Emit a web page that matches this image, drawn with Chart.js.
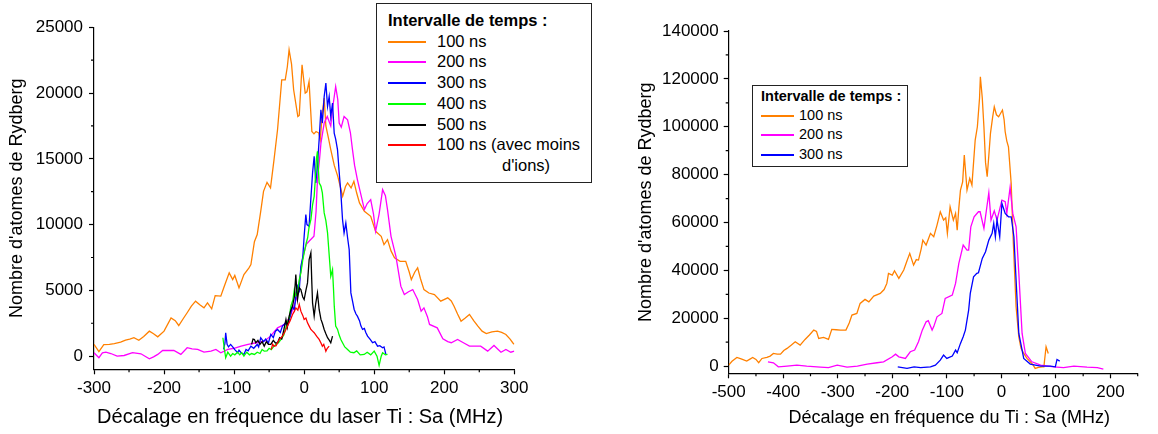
<!DOCTYPE html>
<html lang="fr">
<head>
<meta charset="UTF-8">
<title>Nombre d'atomes de Rydberg - décalage en fréquence</title>
<script src="https://cdn.jsdelivr.net/npm/chart.js@4.4.1/dist/chart.umd.min.js"></script>
<style>
    * { margin: 0; padding: 0; box-sizing: border-box; }
    body {
        width: 1158px; height: 434px; background: #fff;
        position: relative; overflow: hidden;
        font-family: "Liberation Sans", Arial, sans-serif; color: #000;
    }
    canvas { position: absolute; top: 0; }
    #leftChart { left: 0; }
    #rightChart { left: 620px; }

    .legend { position: absolute; background: #fff; border: 1.5px solid #222; }
    .legend .title { font-weight: bold; white-space: nowrap; }
    .legend .row { display: flex; }
    .legend .swatch { flex: none; height: 0; border-top-style: solid; }
    .legend .label { flex: 1; padding-left: 65px; text-indent: -65px; }

    #legendL { left: 376px; top: 3px; width: 216px; height: 180px; padding: 6px 0 0 11px; font-size: 16.5px; line-height: 20.7px; }
    #legendL .swatch { width: 38px; border-top-width: 2px; margin: 10px 11px 0 0; }

    #legendR { left: 752px; top: 85px; width: 156px; height: 82px; padding: 1px 0 0 8px; font-size: 14.5px; line-height: 19.2px; }
    #legendR .swatch { width: 33px; border-top-width: 2px; margin: 9px 5px 0 0; }
</style>
</head>
<body>
<canvas id="leftChart" width="560" height="434"></canvas>
<canvas id="rightChart" width="538" height="434"></canvas>
<div class="legend" id="legendL"></div>
<div class="legend" id="legendR"></div>

<script>
// ---- data: [MHz, nombre d'atomes] ----
// graphe de gauche
const left100 = [[-300,900],[-293,350],[-286,880],[-278,900],[-271,960],[-262,1060],[-255,1210],[-249,1300],[-243,1400],[-236,1210],[-229,1500],[-221,1900],[-215,1700],[-209,1470],[-200,1900],[-190,2910],[-184,2700],[-179,2330],[-172,2900],[-167,3300],[-161,3800],[-155,4180],[-149,3900],[-143,3670],[-138,4050],[-132,3600],[-127,4600],[-119,4560],[-114,5320],[-107,6330],[-102,5820],[-99,6130],[-93,5190],[-86,6200],[-79,6700],[-76,6960],[-71,8700],[-67,9240],[-62,11000],[-58,12530],[-53,13210],[-48,12790],[-43,14940],[-38,17210],[-32,21010],[-27,21010],[-24,22000],[-21.5,23290],[-18,22200],[-15,20250],[-9,18220],[-7,18300],[-3,22150],[1.5,20000],[4,20100],[7,20880],[11,17080],[14,16900],[17,17080],[21,16960],[23,16450],[26,18500],[28.6,19620],[31,17500],[35,16500],[38,15700],[43,14500],[48,13670],[52,12800],[55,12150],[59,12900],[62,13170],[67,12790],[71,13290],[75,12400],[79,11650],[86,11010],[95,10630],[102,9490],[110,9110],[114,8480],[119,8860],[124,8000],[129,7470],[137,7210],[145,7210],[150,6400],[153,5820],[158,6400],[162,6710],[166,5900],[171,5060],[178,4800],[186,4680],[195,4180],[205,4430],[210,4200],[214,3800],[219,3200],[224,2660],[230,2900],[236,3170],[242,2700],[248,2280],[254,1900],[260,1720],[268,1850],[276,1900],[282,1800],[288,1650],[294,1300],[298,1000],[300,900]];
const left200 = [[-300,260],[-293,-120],[-288,250],[-283,300],[-276,200],[-267,0],[-257,50],[-245,260],[-233,180],[-221,-200],[-215,-50],[-209,130],[-202,430],[-186,430],[-176,130],[-167,640],[-160,550],[-152,510],[-143,300],[-133,380],[-126,510],[-119,260],[-109,510],[-100,600],[-90,760],[-80,900],[-70,1000],[-57,1140],[-48,1520],[-38,2150],[-28.6,2400],[-20,3000],[-10,4500],[-2,7470],[3,8500],[7,8730],[14,9110],[17,11000],[19,13420],[22,15000],[24,16200],[28.6,17720],[33,18220],[38,17500],[41,19000],[45,20500],[48,19500],[50,17720],[53,17400],[57,18220],[62,17970],[66,17000],[69,15700],[72,14500],[76,13420],[80,12500],[86,11140],[90,11600],[95,11900],[99,10800],[102,9490],[107,10800],[112,12660],[116,12200],[119,11140],[124,9110],[131,7590],[138,5320],[143,4680],[149,4900],[155,5060],[162,4300],[167,3420],[171,3670],[176,3000],[179,2410],[190,2150],[198,1320],[205,1100],[210,1020],[219,1270],[228,1000],[236,760],[252,760],[262,380],[271,810],[281,300],[288,510],[295,300],[300,380]];
const left300 = [[-115,510],[-113,1000],[-112,1780],[-110,900],[-108,700],[-105,890],[-102,700],[-99,500],[-95,260],[-93,450],[-90,260],[-86,130],[-83,500],[-80,400],[-76,760],[-72,600],[-67,890],[-65,700],[-62,1400],[-58,1100],[-55,1300],[-51,1000],[-47.6,1650],[-44,1400],[-41,1900],[-38,2030],[-34,1800],[-31,2280],[-27,2500],[-24,2300],[-20,3000],[-17,3800],[-14,3500],[-12,4500],[-9.5,5320],[-7,5000],[-4.7,6830],[-2,7500],[0,9110],[2.4,10760],[4,10000],[7,9870],[9,11500],[12,13920],[14.3,15190],[16.7,13170],[19,14500],[21.4,16450],[23.9,18730],[26,17720],[28.6,19740],[31,20760],[33.4,18980],[35.7,19740],[38,18220],[40.5,19240],[42.9,16960],[45,16500],[47.6,15700],[50,14000],[52.4,12410],[54.8,10380],[57,9370],[59.5,10130],[62,9000],[64.3,8100],[66.7,4810],[69,4200],[71.4,3550],[74,3200],[76,3040],[79,2700],[81,2300],[83.4,2030],[86,2100],[88,1800],[90.5,1520],[94,1300],[97.7,1020],[101,1100],[104.8,760],[108,800],[112,640],[114,700],[116.7,130]];
const left400 = [[-116,1400],[-114,600],[-112,-120],[-109,300],[-105,0],[-102,200],[-99,100],[-95,300],[-92,100],[-89,250],[-86,0],[-82,300],[-78,100],[-75,200],[-71,130],[-67,300],[-63,200],[-60,500],[-57,380],[-53,400],[-50,600],[-47,500],[-43,760],[-40,900],[-37,1000],[-33,1270],[-29,1600],[-26,2200],[-24,2530],[-21,3000],[-19,3800],[-16,4300],[-14,5060],[-12,4600],[-9.5,4810],[-7,5800],[-4.7,6330],[-2,7300],[0,7850],[3,8600],[5,9000],[7,9800],[9.6,10380],[12,11500],[14.3,12150],[16,13500],[17.5,15000],[19,15570],[20,14500],[21.4,13170],[24,12910],[26,12410],[28.6,10890],[31,10300],[33.4,9370],[36,7500],[38,6070],[40.5,6580],[42,5000],[43,3800],[45,2280],[47.7,2030],[50,1600],[52.4,1270],[55,1000],[58,700],[62,510],[66,300],[71,260],[75,400],[80,100],[85.7,130],[90,300],[95,100],[100,380],[104,0],[107,-700],[110,0],[112,260],[116,100],[119,130]];
const left500 = [[-75,900],[-73,1300],[-71,1270],[-69,1020],[-66,1200],[-63,900],[-60,1100],[-57,760],[-54,1100],[-51,900],[-47.6,890],[-44,1200],[-41,1000],[-38,1020],[-35,1400],[-32,1300],[-29,2000],[-26,2790],[-24,2200],[-21.4,3040],[-19,3500],[-16.6,3800],[-14,4500],[-11.9,6200],[-10.5,5000],[-9.5,4300],[-7,5200],[-4.7,5060],[-2,4500],[0,4300],[2.5,5000],[4.8,5570],[7.1,7340],[9.6,7850],[11,5500],[12,4050],[14.3,3040],[16.5,4000],[19,4810],[21.4,3550],[24,2790],[26,2500],[28.6,2030],[31,1700],[33.4,1400],[36,1200],[38,1020],[40.5,1520]];
const left100b = [[-47,500],[-45,900],[-43,760],[-40,800],[-38,1020],[-35,1300],[-31,1520],[-28,1800],[-24,2280],[-20,2700],[-16.6,3170],[-14,3400],[-11.9,3670],[-9,3500],[-7,3930],[-4.7,3420],[-2,3100],[0,2790],[2.5,2900],[4.8,2530],[7,2300],[9.6,2030],[12,1900],[14.3,1780],[18,1500],[21.4,1270],[24,1000],[26,760],[28,900],[31,380],[33,600],[35.7,760]];

// graphe de droite
const right100 = [[-500,420],[-494,2000],[-485,3600],[-476,2900],[-467,2100],[-461,2900],[-456,3600],[-450,2800],[-445,1400],[-439,3200],[-430,3700],[-424,4200],[-418,5300],[-411,5000],[-405,5000],[-399,6500],[-393,7400],[-385,8800],[-378,10150],[-369,8780],[-360,11150],[-352,13000],[-344,15040],[-339,14500],[-335,11570],[-326,12000],[-317,11150],[-311,15340],[-303,15200],[-295,15040],[-285,15040],[-279,18000],[-274,21300],[-265,22000],[-259,26200],[-250,27870],[-243,26870],[-234,29250],[-222,30380],[-215,32000],[-210,34560],[-207,38740],[-200,38030],[-196,39830],[-188,36650],[-179,40120],[-173,44000],[-168,47100],[-161,42200],[-156,44500],[-152,44300],[-147,49000],[-144,52650],[-138,50560],[-134,53000],[-130,55450],[-124,54030],[-118,58920],[-112,64480],[-106,61010],[-102,62000],[-99,55450],[-94,66570],[-88,61010],[-84,63810],[-81,56830],[-78,66000],[-75,73550],[-71,77000],[-68,88170],[-63,73550],[-58,78440],[-54,75640],[-51,85000],[-48,94440],[-44,100000],[-40,112000],[-38.5,120900],[-35,112000],[-32,100000],[-29,85000],[-26,79110],[-23,88000],[-20,97240],[-16,104000],[-13,108360],[-9,105000],[-5,104180],[2,106980],[5,103000],[7,97900],[10,94000],[13,91640],[18,76350],[22,51280],[27,24780],[32,12240],[36,7500],[41,5300],[47,3200],[53,1800],[58,500],[62,-960],[68,-500],[75,-300],[78,-300],[79,2000],[82,8070],[86,5300]];
const right200 = [[-428,1800],[-418,1400],[-409,-300],[-393,0],[-375,400],[-357,0],[-332,-400],[-317,-600],[-301,400],[-283,-400],[-264,0],[-246,800],[-228,1400],[-216,1800],[-200,3900],[-194,5000],[-188,3900],[-176,3200],[-167,6000],[-159,6700],[-152,10150],[-145,15040],[-138,18510],[-134,19000],[-127,15040],[-124,16500],[-118,20600],[-109,22000],[-103,28290],[-90,29670],[-84,34560],[-78,42920],[-70,50560],[-63,48480],[-60,48480],[-56,58200],[-50,62390],[-42,64480],[-39,64480],[-32,57540],[-23,72420],[-19,61010],[-13,64900],[-8,61010],[1,69370],[7,68700],[10,63810],[16,74680],[21,63810],[27,58200],[32,38740],[38,13660],[44,5300],[56,1800],[72,420],[96,-300],[114,-600],[133,0],[157,-400],[176,-600],[187,-1250]];
const right300 = [[-190,-300],[-173,-960],[-160,-300],[-148,-600],[-130,-300],[-121,420],[-112,2500],[-106,4600],[-100,3200],[-90,4200],[-84,6700],[-81,5600],[-75,9490],[-70,12240],[-66,15040],[-63,19220],[-60,23400],[-57,30380],[-51,37320],[-45,38740],[-42,39000],[-35,45010],[-29,47770],[-23,52650],[-17,55450],[-14,59630],[-11,54000],[-8,61010],[-3,54030],[1,68000],[7,63810],[13,62390],[18,62390],[23,54030],[27,35940],[32,13660],[41,3200],[53,840],[72,0],[90,0],[99,-300],[102,2800],[107,2100]];

// graduations
const leftXTicks = [-300, -200, -100, 0, 100, 200, 300];
const leftXMinor = [-250, -150, -50, 50, 150, 250];
const leftYTicks = [0, 5000, 10000, 15000, 20000, 25000];
const leftYMinor = [2500, 7500, 12500, 17500, 22500];
const rightXTicks = [-500, -400, -300, -200, -100, 0, 100, 200];
const rightXMinor = [-450, -350, -250, -150, -50, 50, 150, 250];
const rightYTicks = [0, 20000, 40000, 60000, 80000, 100000, 120000, 140000];
const rightYMinor = [10000, 30000, 50000, 70000, 90000, 110000, 130000];

const leftNames = ['100 ns', '200 ns', '300 ns', '400 ns', '500 ns', "100 ns (avec moins d'ions)"];
const rightNames = ['100 ns', '200 ns', '300 ns'];
const legendTitle = 'Intervalle de temps :';

// ---- style ----
const FONT = "'Liberation Sans', Arial, sans-serif";
Chart.defaults.font.family = FONT;
Chart.defaults.color = '#000';

const colors = ['#FF8000', '#FF00FF', '#0000FF', '#00FF00', '#000000', '#FF0000'];
const drawOrder = [5, 4, 3, 2, 1, 0]; // red on top

// short ticks between labelled ones
const minorTicks = {
    id: 'minorTicks',
    afterDraw(chart, args, opts) {
        const {ctx, chartArea} = chart;
        const sx = chart.scales.x, sy = chart.scales.y;
        ctx.save();
        ctx.strokeStyle = '#000';
        ctx.lineWidth = 1.2;
        ctx.beginPath();
        opts.x.forEach(v => {
            const px = sx.getPixelForValue(v);
            ctx.moveTo(px, chartArea.bottom);
            ctx.lineTo(px, chartArea.bottom + opts.length);
        });
        opts.y.forEach(v => {
            const py = sy.getPixelForValue(v);
            ctx.moveTo(chartArea.left, py);
            ctx.lineTo(chartArea.left - opts.length, py);
        });
        ctx.stroke();
        ctx.restore();
    }
};

// x-axis title, centred a little off the plot centre like the original
const xTitle = {
    id: 'xTitle',
    afterDraw(chart, args, o) {
        const {ctx, chartArea} = chart;
        ctx.save();
        ctx.font = o.size + 'px ' + FONT;
        ctx.fillStyle = '#000';
        ctx.textAlign = 'center';
        ctx.textBaseline = 'middle';
        ctx.fillText(o.text, (chartArea.left + chartArea.right) / 2 + o.shift, chart.height - o.bottom);
        ctx.restore();
    }
};

function makeDatasets(series, names) {
    return series.map((s, i) => ({
        label: names[i],
        data: s.map(p => ({x: p[0], y: p[1]})),
        borderColor: colors[i],
        borderWidth: 1.3,
        pointRadius: 0,
        tension: 0,
        order: drawOrder[i]
    }));
}

function makeAxis(c) {
    return {
        type: 'linear',
        position: c.position,
        min: c.min,
        max: c.max,
        afterBuildTicks: s => { s.ticks = c.ticks.map(v => ({value: v})); },
        afterFit: s => { if (c.position === 'left') s.width = c.size; else s.height = c.size; },
        border: {display: true, color: '#000', width: 1.2},
        grid: {drawOnChartArea: false, drawTicks: true, tickLength: 5, tickWidth: 1.2, color: '#000'},
        ticks: {
            color: '#000', font: {size: 17}, padding: c.tickPad,
            maxRotation: 0, autoSkip: false,
            callback: v => String(v)
        },
        title: {
            display: !!c.title, text: c.title, color: '#000',
            font: {size: c.titleSize},
            padding: c.titlePad
        }
    };
}

function makeChart(id, datasets, layoutPad, xAxis, yAxis, minor, xt) {
    return new Chart(document.getElementById(id), {
        type: 'line',
        data: {datasets},
        plugins: [minorTicks, xTitle],
        options: {
            responsive: false,
            animation: false,
            events: [],
            layout: {padding: layoutPad},
            scales: {x: makeAxis(xAxis), y: makeAxis(yAxis)},
            plugins: {
                legend: {display: false},
                tooltip: {enabled: false},
                minorTicks: minor,
                xTitle: xt
            }
        }
    });
}

const leftChart = makeChart('leftChart',
    makeDatasets([left100, left200, left300, left400, left500, left100b], leftNames),
    {top: 27.3, right: 45.7, left: 0, bottom: 0},
    {position: 'bottom', min: -300, max: 300, ticks: leftXTicks, size: 64.7, tickPad: 4},
    {position: 'left', min: -1000, max: 25000, ticks: leftYTicks, size: 94, tickPad: 6,
     title: "Nombre d'atomes de Rydberg", titleSize: 18, titlePad: {top: 6, bottom: 0}},
    {x: leftXMinor, y: leftYMinor, length: 3},
    {text: 'Décalage en fréquence du laser Ti : Sa (MHz)', size: 20, shift: -4, bottom: 17}
);

const rightChart = makeChart('rightChart',
    makeDatasets([right100, right200, right300], rightNames),
    {top: 31, right: 20.3, left: 0, bottom: 0},
    {position: 'bottom', min: -500, max: 250, ticks: rightXTicks, size: 60.7, tickPad: 4},
    {position: 'left', min: -3000, max: 140000, ticks: rightYTicks, size: 108.7, tickPad: 5,
     title: "Nombre d'atomes de Rydberg", titleSize: 18, titlePad: {top: 15, bottom: 0}},
    {x: rightXMinor, y: rightYMinor, length: 3},
    {text: 'Décalage en fréquence du Ti : Sa (MHz)', size: 18, shift: 16, bottom: 16}
);

// legends as real text boxes, filled from the datasets
function buildLegend(boxId, chart) {
    const box = document.getElementById(boxId);
    const t = document.createElement('div');
    t.className = 'title';
    t.textContent = legendTitle;
    box.appendChild(t);
    chart.data.datasets.forEach(ds => {
        const row = document.createElement('div');
        row.className = 'row';
        const sw = document.createElement('span');
        sw.className = 'swatch';
        sw.style.borderTopColor = ds.borderColor;
        const lab = document.createElement('span');
        lab.className = 'label';
        lab.textContent = ds.label;
        row.append(sw, lab);
        box.appendChild(row);
    });
}
buildLegend('legendL', leftChart);
buildLegend('legendR', rightChart);
</script>
</body>
</html>
